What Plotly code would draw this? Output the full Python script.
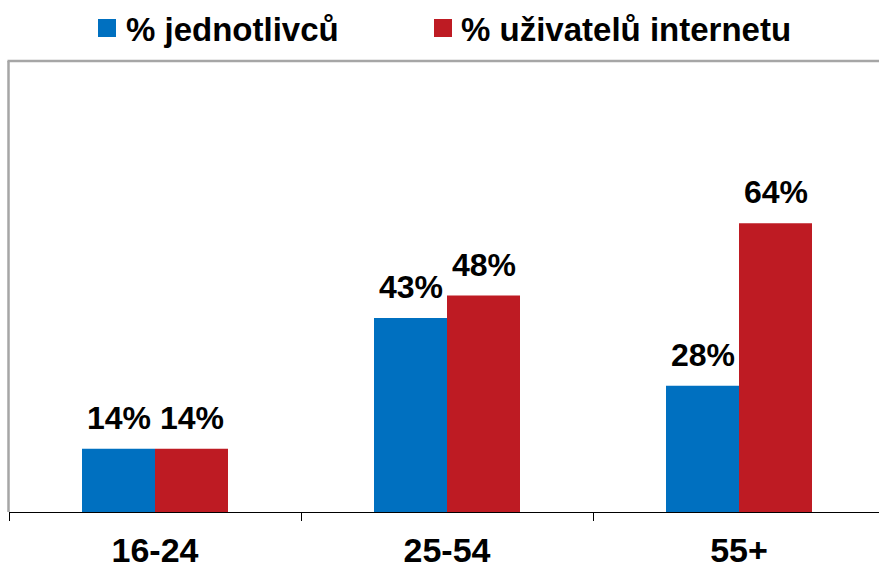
import plotly.graph_objects as go

categories = ["16-24", "25-54", "55+"]
series_names = ["% jednotlivců", "% uživatelů internetu"]
jednotlivcu = [14, 43, 28]
uzivatelu = [14, 48, 64]
label_fmt = "{}%"

colors = ["#0070C0", "#BE1B23"]
FONT = "Liberation Sans, Arial, sans-serif"

W, H = 879, 568
L, R, T, B = 9, 0, 61, 56
PW, PH = W - L - R, H - T - B


def px(x):
    return (x - L) / PW


def py(y):
    return (H - B - y) / PH


fig = go.Figure()
all_vals = [jednotlivcu, uzivatelu]
for name, vals, col in zip(series_names, all_vals, colors):
    fig.add_trace(go.Bar(
        x=categories, y=vals, name=name, marker=dict(color=col, line=dict(width=0)),
        showlegend=False, hoverinfo="skip",
    ))

annotations = []
shift = 36.5
for i, vals in enumerate(all_vals):
    xs = -shift if i == 0 else shift
    for c, v in zip(categories, vals):
        annotations.append(dict(
            x=c, y=v, xref="x", yref="y", text=label_fmt.format(v), showarrow=False,
            xshift=xs, yshift=11, yanchor="bottom", xanchor="center",
            font=dict(family=FONT, size=32, color="black", weight="bold"),
        ))

# manual legend
leg_sq_x = [98, 434]
leg_txt_x = [124, 459]
shapes = []
for name, col, sx, tx in zip(series_names, colors, leg_sq_x, leg_txt_x):
    shapes.append(dict(type="rect", xref="paper", yref="paper",
                       x0=px(sx), x1=px(sx + 18), y0=py(37), y1=py(19),
                       fillcolor=col, line=dict(width=0)))
    annotations.append(dict(
        x=px(tx), y=py(50), xref="paper", yref="paper", text=name, showarrow=False,
        xanchor="left", yanchor="bottom",
        font=dict(family=FONT, size=33, color="black", weight="bold"),
    ))

# grey frame (left and top)
shapes.append(dict(type="line", xref="paper", yref="paper", x0=px(8.5), x1=px(8.5),
                   y0=0, y1=py(61), line=dict(color="#A6A6A6", width=2.5), layer="below"))
shapes.append(dict(type="line", xref="paper", yref="paper", x0=px(7.5), x1=1,
                   y0=py(61), y1=py(61), line=dict(color="#A6A6A6", width=2.5), layer="below"))

fig.update_layout(
    width=W, height=H,
    margin=dict(l=L, r=R, t=T, b=B),
    paper_bgcolor="white", plot_bgcolor="white",
    barmode="group", bargap=0.5, bargroupgap=0,
    annotations=annotations, shapes=shapes,
    showlegend=False, hovermode=False,
    xaxis=dict(
        type="category", range=[-0.5, -0.5 + PW / 292],
        showline=True, linecolor="black", linewidth=1,
        ticks="outside", ticklen=8, tickcolor="black", tickwidth=1,
        tickson="boundaries", showgrid=False, zeroline=False,
        tickfont=dict(family=FONT, size=34, color="black", weight="bold"),
        ticklabelstandoff=8,
    ),
    yaxis=dict(range=[0, 100], visible=False, showgrid=False, zeroline=False),
)

fig.write_html(
    "out.html",
    config={"displayModeBar": False},
    post_script="document.body.style.margin='0';document.body.style.overflow='hidden';",
)
